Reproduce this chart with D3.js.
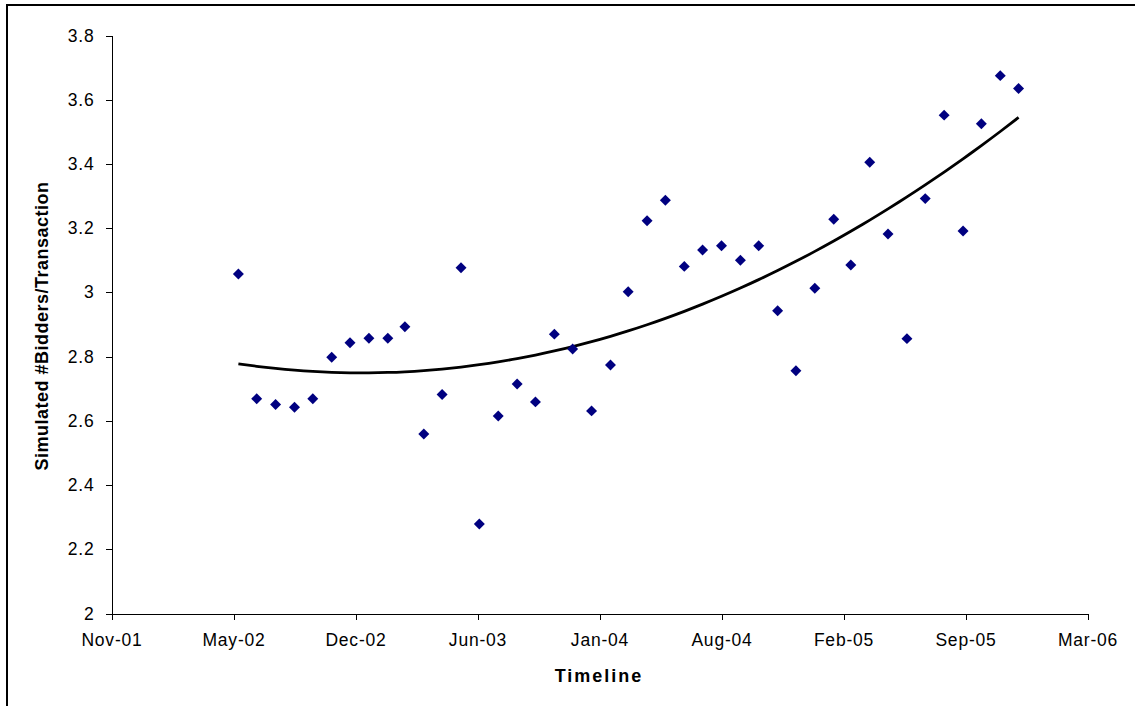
<!DOCTYPE html>
<meta charset="utf-8">
<style>
body { margin: 0; background: #fff; }
svg { display: block; font-family: "Liberation Sans", Arial, sans-serif; }
.tick text { font-size: 17.5px; letter-spacing: 0.8px; fill: #000; }
.axis path, .axis line { stroke: #000; shape-rendering: crispEdges; }
.title { font-weight: bold; font-size: 18px; fill: #000; }
</style>
<html>
<head>
<title>Simulated bidders per transaction</title>
</head>
<body>
<svg id="chart" width="1135" height="706"></svg>
</body>
</html>

<script src="https://d3js.org/d3.v7.min.js"></script>
<script type="text/javascript">
// monthly observations (first of month)
var months = ["2002-06","2002-07","2002-08","2002-09","2002-10","2002-11","2002-12",
  "2003-01","2003-02","2003-03","2003-04","2003-05","2003-06","2003-07","2003-08",
  "2003-09","2003-10","2003-11","2003-12","2004-01","2004-02","2004-03","2004-04",
  "2004-05","2004-06","2004-07","2004-08","2004-09","2004-10","2004-11","2004-12",
  "2005-01","2005-02","2005-03","2005-04","2005-05","2005-06","2005-07","2005-08",
  "2005-09","2005-10","2005-11","2005-12"];

var bidders = [3.057, 2.669, 2.651, 2.642, 2.669, 2.798, 2.843, 2.857, 2.857, 2.893,
  2.559, 2.682, 3.077, 2.279, 2.615, 2.715, 2.659, 2.870, 2.824, 2.631,
  2.774, 3.002, 3.223, 3.287, 3.081, 3.132, 3.145, 3.100, 3.145, 2.943,
  2.756, 3.013, 3.228, 3.085, 3.405, 3.182, 2.856, 3.292, 3.552, 3.191,
  3.525, 3.675, 3.635];

// axis: Excel date axis, major unit 200 days
var xDomain = ["2001-11-05", "2006-03-24"];
var xTicks = ["2001-11-05","2002-05-24","2002-12-10","2003-06-28","2004-01-14",
  "2004-08-01","2005-02-17","2005-09-05","2006-03-24"];
var yDomain = [2, 3.8];
var yTicks = [2, 2.2, 2.4, 2.6, 2.8, 3, 3.2, 3.4, 3.6, 3.8];

var parseDay = d3.utcParse("%Y-%m-%d");
var parseMonth = d3.utcParse("%Y-%m");

var data = months.map(function(m, i) {
  return { date: parseMonth(m), value: bidders[i] };
});

var svg = d3.select("#chart");

// outer chart frame (runs off the right and bottom edges)
svg.append("rect")
  .attr("x", 7).attr("y", 5)
  .attr("width", 1140).attr("height", 720)
  .attr("fill", "none")
  .attr("stroke", "#000")
  .attr("stroke-width", 2);

var x = d3.scaleUtc()
  .domain(xDomain.map(parseDay))
  .range([111.5, 1087.5]);

var y = d3.scaleLinear()
  .domain(yDomain)
  .range([613.5, 35.5]);

var xAxis = d3.axisBottom(x)
  .tickValues(xTicks.map(parseDay))
  .tickFormat(d3.utcFormat("%b-%y"))
  .tickSizeInner(6).tickSizeOuter(0).tickPadding(14);

var yAxis = d3.axisLeft(y)
  .tickValues(yTicks)
  .tickFormat(function(d) { return d3.format("")(+d.toFixed(1)); })
  .tickSizeInner(6).tickSizeOuter(0).tickPadding(11);

svg.append("g")
  .attr("class", "axis")
  .attr("transform", "translate(0,613.5)")
  .call(xAxis)
  .call(function(g) { g.selectAll(".tick text").attr("font-size", null).attr("font-family", null); });

svg.append("g")
  .attr("class", "axis")
  .attr("transform", "translate(111.5,0)")
  .call(yAxis)
  .call(function(g) { g.selectAll(".tick text").attr("font-size", null).attr("font-family", null); });

// polynomial (order 2) trendline, least squares fit on day numbers
var t0 = data[0].date.getTime();
function days(d) { return (d.getTime() - t0) / 864e5; }

function quadFit(pts) {
  var s = [0, 0, 0, 0, 0], r = [0, 0, 0];
  pts.forEach(function(p) {
    var xi = days(p.date), xp = 1;
    for (var k = 0; k < 5; k++) { s[k] += xp; if (k < 3) r[k] += xp * p.value; xp *= xi; }
  });
  var m = [[s[0], s[1], s[2], r[0]], [s[1], s[2], s[3], r[1]], [s[2], s[3], s[4], r[2]]];
  // gauss elimination
  for (var i = 0; i < 3; i++) {
    for (var j = i + 1; j < 3; j++) {
      var f = m[j][i] / m[i][i];
      for (var k = i; k < 4; k++) m[j][k] -= f * m[i][k];
    }
  }
  var c = [0, 0, 0];
  for (var i = 2; i >= 0; i--) {
    var v = m[i][3];
    for (var k = i + 1; k < 3; k++) v -= m[i][k] * c[k];
    c[i] = v / m[i][i];
  }
  return c;
}

var coef = quadFit(data);
var trend = data.map(function(d) {
  var t = days(d.date);
  return { date: d.date, value: coef[0] + coef[1] * t + coef[2] * t * t };
});

var line = d3.line()
  .x(function(d) { return x(d.date); })
  .y(function(d) { return y(d.value); })
  .curve(d3.curveNatural);

svg.append("path")
  .datum(trend)
  .attr("fill", "none")
  .attr("stroke", "#000")
  .attr("stroke-width", 2.8)
  .attr("d", line);

// diamond markers
var diamond = d3.symbol().type(d3.symbolSquare).size(60);

svg.append("g")
  .selectAll("path")
  .data(data)
  .enter().append("path")
    .attr("d", diamond)
    .attr("fill", "#000080")
    .attr("transform", function(d) {
      return "translate(" + x(d.date) + "," + y(d.value) + ") rotate(45)";
    });

// axis titles
svg.append("text")
  .attr("class", "title")
  .attr("x", 599).attr("y", 681.5)
  .attr("text-anchor", "middle")
  .style("letter-spacing", "2px")
  .text("Timeline");

svg.append("text")
  .attr("class", "title")
  .attr("transform", "translate(47.5,326) rotate(-90)")
  .attr("text-anchor", "middle")
  .style("letter-spacing", "0.5px")
  .text("Simulated #Bidders/Transaction");
</script>
